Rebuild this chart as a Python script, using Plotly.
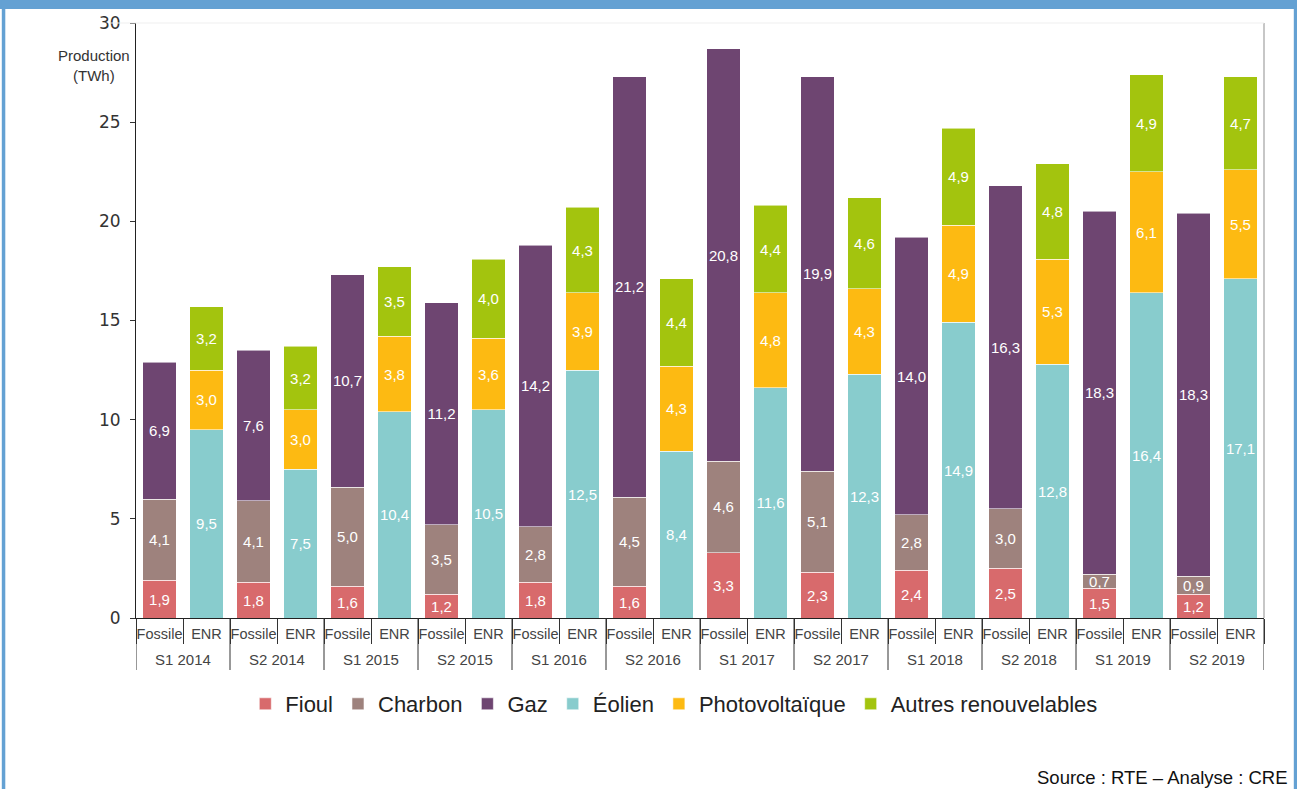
import plotly.graph_objects as go

groups = ["S1 2014", "S2 2014", "S1 2015", "S2 2015", "S1 2016", "S2 2016",
          "S1 2017", "S2 2017", "S1 2018", "S2 2018", "S1 2019", "S2 2019"]
subcats = ["Fossile", "ENR"]

fioul = [1.9, 1.8, 1.6, 1.2, 1.8, 1.6, 3.3, 2.3, 2.4, 2.5, 1.5, 1.2]
charbon = [4.1, 4.1, 5.0, 3.5, 2.8, 4.5, 4.6, 5.1, 2.8, 3.0, 0.7, 0.9]
gaz = [6.9, 7.6, 10.7, 11.2, 14.2, 21.2, 20.8, 19.9, 14.0, 16.3, 18.3, 18.3]
eolien = [9.5, 7.5, 10.4, 10.5, 12.5, 8.4, 11.6, 12.3, 14.9, 12.8, 16.4, 17.1]
pv = [3.0, 3.0, 3.8, 3.6, 3.9, 4.3, 4.8, 4.3, 4.9, 5.3, 6.1, 5.5]
autres = [3.2, 3.2, 3.5, 4.0, 4.3, 4.4, 4.4, 4.6, 4.9, 4.8, 4.9, 4.7]

series = [
    ("Fioul", fioul, "Fossile", "#D86A6C"),
    ("Charbon", charbon, "Fossile", "#9E827D"),
    ("Gaz", gaz, "Fossile", "#6E4571"),
    ("Éolien", eolien, "ENR", "#88CCCD"),
    ("Photovoltaïque", pv, "ENR", "#FDBA12"),
    ("Autres renouvelables", autres, "ENR", "#A3C40E"),
]

# one category per (period, kind) bar slot
cat_keys = [f"{g}|{s}" for g in groups for s in subcats]
cat_text = [s for _ in groups for s in subcats]

fig = go.Figure()
for name, vals, sub, color in series:
    xs, ys, txt = [], [], []
    for g, v in zip(groups, vals):
        xs.append(f"{g}|{sub}")
        ys.append(v)
        txt.append(f"{v:.1f}".replace(".", ","))
    fig.add_trace(go.Bar(
        name=name, x=xs, y=ys, text=txt,
        textposition="inside", insidetextanchor="middle", textangle=0,
        constraintext="none", cliponaxis=False,
        textfont=dict(color="white", size=15, family="Liberation Sans, Arial"),
        marker=dict(color=color, line=dict(color="rgba(255,255,255,0.55)", width=1)),
        hoverinfo="skip",
    ))

W, H = 1297, 789
L, R, T, B = 135.7, 1263.7, 23, 618


def px(xp):
    return (xp - L) / (R - L)


def py(yp):
    return (B - yp) / (B - T)


blue = "#64A1D3"
shapes = [
    dict(type="rect", xref="paper", yref="paper", x0=px(-5), x1=px(W + 5), y0=py(9), y1=py(-10),
         fillcolor=blue, line=dict(width=0), layer="above"),
    dict(type="rect", xref="paper", yref="paper", x0=px(1.5), x1=px(5), y0=py(H + 5), y1=py(0),
         fillcolor=blue, line=dict(width=0), layer="above"),
    dict(type="rect", xref="paper", yref="paper", x0=px(1293.5), x1=px(W + 5), y0=py(H + 5), y1=py(0),
         fillcolor=blue, line=dict(width=0), layer="above"),
    dict(type="line", xref="paper", yref="paper", x0=1, x1=1, y0=0, y1=1,
         line=dict(color="#B5B5B5", width=1.5)),
    dict(type="line", xref="paper", yref="paper", x0=px(110), x1=1, y0=1, y1=1,
         line=dict(color="#EFEFEF", width=1)),
]
# group dividers below the axis, at the category boundaries of each period
for k in range(len(groups) + 1):
    shapes.append(dict(type="line", xref="x", yref="paper",
                       x0=2 * k - 0.5, x1=2 * k - 0.5, y0=0, y1=py(670),
                       line=dict(color="#333333", width=1)))

annotations = [
    dict(text="Production<br>(TWh)", xref="paper", yref="paper", x=px(93.5), y=py(66),
         xanchor="center", yanchor="middle", showarrow=False, align="center",
         font=dict(size=15, color="#333333", family="Liberation Sans, Arial")),
    dict(text="Source : RTE – Analyse : CRE", xref="paper", yref="paper", x=px(1290), y=py(777),
         xanchor="right", yanchor="middle", showarrow=False,
         font=dict(size=18.5, color="#111111", family="Liberation Sans, Arial")),
]
for k, g in enumerate(groups):
    annotations.append(dict(text=g, xref="x", yref="paper", x=2 * k + 0.5, y=py(659),
                            xanchor="center", yanchor="middle", showarrow=False,
                            font=dict(size=15, color="#444444", family="Liberation Sans, Arial")))

fig.update_layout(
    width=W, height=H,
    barmode="stack", bargap=0.29,
    paper_bgcolor="white", plot_bgcolor="white",
    margin=dict(l=L, r=W - R, t=T, b=H - B, autoexpand=False),
    showlegend=True,
    legend=dict(orientation="h", x=px(674), y=py(704), xanchor="center", yanchor="middle",
                font=dict(size=22, color="#222222", family="Liberation Sans, Arial"),
                traceorder="normal", itemwidth=30),
    shapes=shapes, annotations=annotations,
    xaxis=dict(type="category", categoryorder="array", categoryarray=cat_keys,
               tickvals=cat_keys, ticktext=cat_text, range=[-0.5, len(cat_keys) - 0.5],
               showline=True, linecolor="#222222", linewidth=1,
               ticks="outside", tickson="boundaries", ticklen=25, tickcolor="#333333",
               tickangle=0, ticklabelstandoff=3,
               tickfont=dict(size=14.5, color="#444444", family="Liberation Sans, Arial"),
               showgrid=False),
    yaxis=dict(range=[0, 30], tickvals=[0, 5, 10, 15, 20, 25, 30], showline=True,
               linecolor="#222222", linewidth=1, ticks="outside", ticklen=5,
               ticklabelstandoff=6,
               tickcolor="#333333", showgrid=False, zeroline=False,
               tickfont=dict(size=17, color="#333333", family="DejaVu Sans, Arial")),
)

fig.write_html(
    "out.html",
    config={"displayModeBar": False},
    post_script="document.body.style.margin='0';document.body.style.overflow='hidden';",
)
